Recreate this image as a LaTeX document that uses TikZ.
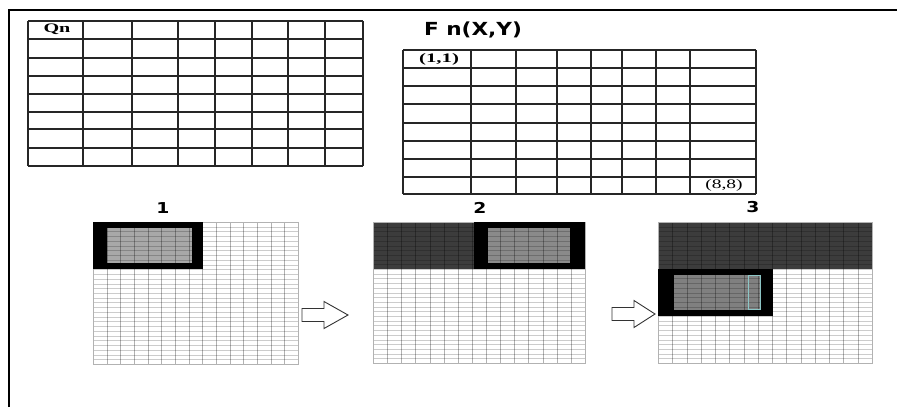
\documentclass[tikz,border=0pt]{standalone}
\usepackage{fontspec}
\newfontfamily\vsans{DejaVu Sans}
\newfontfamily\tms{Liberation Serif}
\definecolor{darkband}{HTML}{3C3C3C}
\definecolor{lightin}{HTML}{A8A8A8}
\definecolor{midin}{HTML}{8A8A8A}
\definecolor{midinb}{HTML}{808080}
\tikzset{
  tab/.style={line width=1.3pt, draw=black!85},
  gv/.style={line width=1pt, draw=black, opacity=0.3},
  gh/.style={line width=1pt, draw=black, opacity=0.2},
  blk/.style={fill=black},
  numlab/.style={font=\vsans\bfseries\fontsize{15}{15}\selectfont, inner sep=0pt},
  cell/.style={inner sep=0pt},
  hollow/.style={draw=black!80, line width=0.9pt, fill=white, line join=miter},
}
\newcommand\finegrid[4]{%
  \begin{scope}
    \clip (#1,#2) rectangle (#3,#4);
    \foreach \i in {0,...,30}{
      \pgfmathsetmacro\yy{round(#2+\i*(#4-#2)/30)+0.5}
      \draw[gh] (#1,\yy) -- (#3,\yy);}
    \foreach \i in {0,...,15}{
      \pgfmathsetmacro\xx{round(#1+\i*(#3-#1)/15)+0.5}
      \draw[gv] (\xx,#2) -- (\xx,#4);}
  \end{scope}
  \draw[line width=0.6pt, draw=black!30] (#1,#2) rectangle (#3,#4);
}
\begin{document}
\begin{tikzpicture}[x=1pt,y=-1pt]
\useasboundingbox (0,0) rectangle (897,407);
\fill[white] (0,0) rectangle (897,407);
% outer frame
\draw[line width=2.2pt] (9,407) -- (9,10) -- (897,10);

% Qn table
\foreach \x in {28,83,132,178,215,252,288,325,363}
  \draw[tab] (\x,21) -- (\x,166);
\foreach \y in {21,39,58,76,94,112,129,148,166}
  \draw[tab] (28,\y) -- (363,\y);
\node[cell] (qn) at (57,29.5) {\tms\bfseries\fontsize{13}{13}\selectfont\scalebox{1.55}[1]{Qn}};

% F n(X,Y) table
\node[cell] (ftitle) at (473,30) {\vsans\bfseries\fontsize{18}{18}\selectfont\scalebox{1.2}[1]{F n(X,Y)}};
\foreach \x in {403,471,516,557,591,622,656,690,756}
  \draw[tab] (\x,50) -- (\x,194);
\foreach \y in {50,68,86,104,123,141,159,177,194}
  \draw[tab] (403,\y) -- (756,\y);
\node[cell] (c11) at (439,59) {\tms\bfseries\fontsize{13}{13}\selectfont\scalebox{1.6}[1]{(1,1)}};
\node[cell] (c88) at (724,185.5) {\tms\fontsize{13}{13}\selectfont\scalebox{1.5}[1]{(8,8)}};

% grid 1
\fill[white] (93,222) rectangle (298,364);
\fill[blk] (93,222) rectangle (203,269);
\fill[lightin] (107,228) rectangle (192,263);
\finegrid{93}{222}{298}{364}
\fill[blk] (93,222) rectangle (203,228);
\fill[blk] (93,263) rectangle (203,269);
\fill[blk] (93,222) rectangle (107,269);
\fill[blk] (192,222) rectangle (203,269);
\node[numlab] (l1) at (163,208) {\scalebox{1.25}[1]{1}};

% arrow 1
\draw[hollow] (302,308.5) -- (324,308.5) -- (324,301.5) -- (348,315) -- (324,328.5) -- (324,321.5) -- (302,321.5) -- cycle;

% grid 2
\fill[white] (373,222) rectangle (585,363);
\fill[darkband] (373,222) rectangle (585,269);
\fill[midin] (488,228) rectangle (570,263);
\finegrid{373}{222}{585}{363}
\fill[blk] (474,222) rectangle (585,228);
\fill[blk] (474,263) rectangle (585,269);
\fill[blk] (474,222) rectangle (488,269);
\fill[blk] (570,222) rectangle (585,269);
\node[numlab] (l2) at (480,208) {\scalebox{1.25}[1]{2}};

% arrow 2
\draw[hollow] (612,307.5) -- (634,307.5) -- (634,300.5) -- (655,314) -- (634,327.5) -- (634,320.5) -- (612,320.5) -- cycle;

% grid 3
\fill[white] (658,222) rectangle (872,363);
\fill[darkband] (658,222) rectangle (872,269);
\fill[midinb] (674,275) rectangle (761,310);
\finegrid{658}{222}{872}{363}
\fill[blk] (658,269) rectangle (773,275);
\fill[blk] (658,310) rectangle (773,316);
\fill[blk] (658,269) rectangle (674,316);
\fill[blk] (761,269) rectangle (773,316);
\draw[line width=0.6pt, draw=teal!45] (748,275.5) rectangle (760.5,309.5);
\node[numlab] (l3) at (753,207) {\scalebox{1.25}[1]{3}};
\end{tikzpicture}
\end{document}
